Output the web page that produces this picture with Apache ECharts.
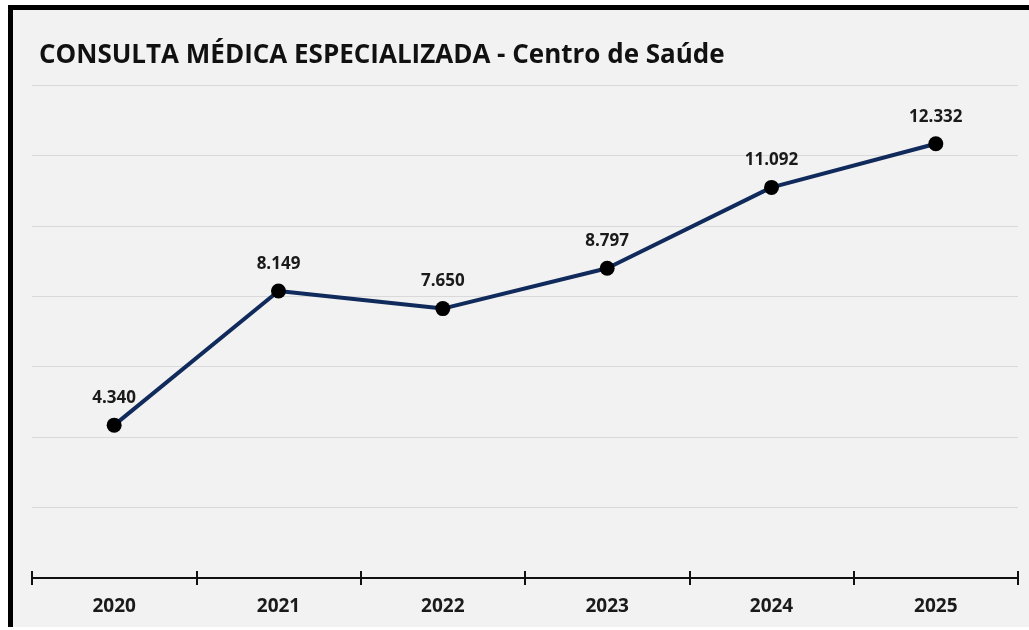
<!DOCTYPE html>
<html><head><meta charset="utf-8">
<script src="https://cdn.jsdelivr.net/npm/echarts@6/dist/echarts.min.js"></script>
<style>
html,body{margin:0;padding:0;background:#fff;}
#frame{position:absolute;left:0;top:0;width:1029px;height:630px;background:#fff;}
#box{position:absolute;left:8px;top:5px;width:1021px;height:622px;background:#f2f2f2;border-left:5px solid #000;border-top:5px solid #000;box-sizing:border-box;}
#chart{position:absolute;left:0;top:0;width:1029px;height:630px;}
</style></head>
<body>
<div id="frame"><div id="box"></div><div id="chart"></div></div>
<script>
const categories = ['2020','2021','2022','2023','2024','2025'];
const values = [4340, 8149, 7650, 8797, 11092, 12332];
const titleText = 'CONSULTA MÉDICA ESPECIALIZADA - Centro de Saúde';

function fmt(v){ return String(v).replace(/\B(?=(\d{3})+(?!\d))/g,'.'); }

const chart = echarts.init(document.getElementById('chart'), null, {renderer:'canvas'});
chart.setOption({
  backgroundColor: 'transparent',
  animation: false,
  title: {
    text: titleText, left: 34, top: 38,
    textStyle: {fontFamily: 'Open Sans', fontWeight: 'bold', fontSize: 26, color: '#111'}
  },
  grid: {left: 32, right: 11, top: 85, bottom: 52},
  xAxis: [{
    type: 'category', data: categories, boundaryGap: true,
    axisLine: {show: true, lineStyle: {color: '#111', width: 2}},
    axisTick: {show: true, length: 7, lineStyle: {color: '#111', width: 2}},
    axisLabel: {margin: 19, fontFamily: 'Open Sans', fontWeight: 'bold', fontSize: 19, color: '#1a1a1a'}
  },{
    type: 'category', data: categories, boundaryGap: true, position: 'bottom',
    axisLine: {show: false},
    axisTick: {show: true, inside: true, length: 7, lineStyle: {color: '#111', width: 2}},
    axisLabel: {show: false}
  }],
  yAxis: {
    type: 'value', min: 0, max: 14000, interval: 2000,
    axisLine: {show: false}, axisTick: {show: false}, axisLabel: {show: false},
    splitLine: {lineStyle: {color: '#d9d9d9', width: 1}}
  },
  series: [{
    type: 'line', data: values,
    lineStyle: {color: '#112a5c', width: 4},
    symbol: 'circle', symbolSize: 15,
    itemStyle: {color: '#000'},
    label: {show: true, position: 'top', distance: 11, formatter: p => fmt(p.value),
      fontFamily: 'Open Sans', fontWeight: 'bold', fontSize: 17, color: '#1a1a1a'}
  }]
});
</script>
</body></html>
